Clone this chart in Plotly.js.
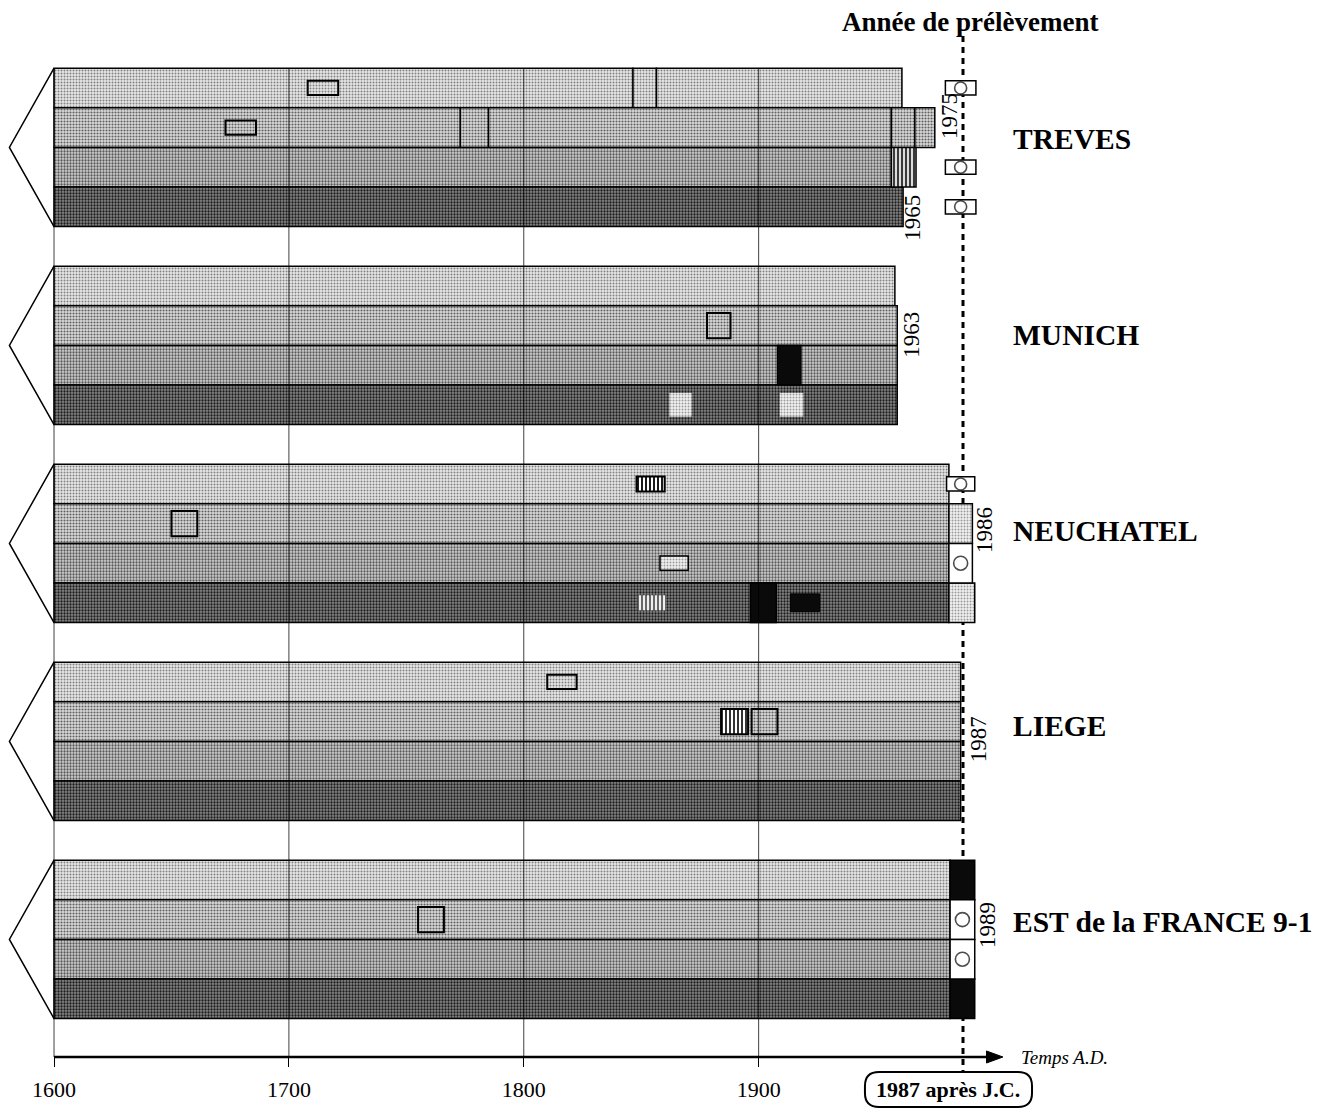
<!DOCTYPE html>
<html><head><meta charset="utf-8">
<script src="https://cdn.plot.ly/plotly-3.0.1.min.js"></script>
<style>html,body{margin:0;padding:0;background:#fff}#chart{width:1326px;height:1114px}</style>
</head><body><div id="chart"></div>
<script>
// ---------------- DATA ----------------
const groups = ["TREVES", "MUNICH", "NEUCHATEL", "LIEGE", "EST de la FRANCE 9-1"];
const tickYears = [1600, 1700, 1800, 1900];
const startYear = 1600;
const samplingYear = 1987;
// segment boundaries (years) of the 4 rows of each site
const treves    = [[1600, 1846.5, 1856.5, 1961], [1600, 1773, 1785, 1956.5, 1966.5, 1975], [1600, 1956.5], [1600, 1961.5]];
const munich    = [[1600, 1958], [1600, 1959], [1600, 1959], [1600, 1959]];
const neuchatel = [[1600, 1981], [1600, 1981], [1600, 1981], [1600, 1981]];
const liege     = [[1600, 1986], [1600, 1986], [1600, 1986], [1600, 1986]];
const estFrance = [[1600, 1981.5], [1600, 1981.5], [1600, 1981.5], [1600, 1981.5]];
const siteRows = [treves, munich, neuchatel, liege, estFrance];
// particular features on the rows
const featGroup = [0, 0, 0, 0, 0, 0, 1, 1, 1, 1, 2, 2, 2, 2, 2, 2, 2, 2, 2, 2, 3, 3, 3, 4, 4, 4, 4, 4];
const featRow   = [0, 1, 2, 0, 2, 3, 1, 2, 3, 3, 0, 0, 1, 1, 2, 2, 3, 3, 3, 3, 0, 1, 1, 0, 1, 1, 2, 3];
const featStart = [1708, 1673, 1956.5, 1979.5, 1979.5, 1979.5, 1878, 1908, 1862, 1909, 1848, 1980, 1650, 1981, 1858, 1981, 1848.5, 1896.5, 1913.5, 1981, 1810, 1884, 1897, 1981.5, 1981.5, 1755, 1981.5, 1981.5];
const featEnd   = [1721, 1686, 1967, 1992.5, 1992.5, 1992.5, 1888, 1918, 1871.5, 1919, 1860, 1992, 1661, 1991, 1870, 1991, 1860.5, 1907.5, 1926, 1992, 1822.5, 1895.5, 1908, 1992, 1992, 1766, 1992, 1992];
const featKind  = ["rect", "rect", "stripeFull", "phi", "phi", "phi", "square", "black", "lightSq", "lightSq",
                   "stripe", "phi", "square", "lightBlock", "lightRect", "circleBox", "stripeLight", "black", "blackRect", "lightBlock",
                   "rect", "stripeTall", "square", "black", "circleBox", "square", "circleBox", "black"];
// sampling year labels
const endLabels = ["1975", "1965", "1963", "1986", "1987", "1989"];

// ---------------- STYLE / LAYOUT ----------------
const ROWS = 5; // 4 rows + 1 gap per site
const rowY = (g, r) => g * ROWS + r;
const FONT = '"Liberation Serif", "DejaVu Serif", serif';
const rowShade = [
  {bg: '#e8e8e8', fg: '#808080', sol: 0.35},
  {bg: '#dadada', fg: '#606060', sol: 0.4},
  {bg: '#d0d0d0', fg: '#585858', sol: 0.45},
  {bg: '#868686', fg: '#1c1c1c', sol: 0.45}
];
const light = {bg: '#f2f2f2', fg: '#9a9a9a', sol: 0.35};
const kindStyle = {
  rect:        {h: 0.36, fill: 'none', line: 2},
  square:      {h: 0.64, fill: 'none', line: 2},
  stripe:      {h: 0.38, pat: {shape: '|', fg: '#000', bg: '#fff', sol: 0.45, size: 4}, line: 2},
  stripeTall:  {h: 0.64, pat: {shape: '|', fg: '#000', bg: '#fff', sol: 0.4, size: 4}, line: 2},
  stripeFull:  {h: 1.0,  pat: {shape: '|', fg: '#111', bg: '#ddd', sol: 0.4, size: 4}, line: 1.5},
  stripeLight: {h: 0.38, pat: {shape: '|', fg: '#444', bg: '#eee', sol: 0.4, size: 4}, line: 0},
  black:       {h: 1.0,  solid: '#0a0a0a', line: 1.5},
  blackRect:   {h: 0.45, solid: '#0a0a0a', line: 1},
  lightSq:     {h: 0.6,  pat: {shape: '.', fg: light.fg, bg: light.bg, sol: light.sol, size: 3}, line: 0},
  lightRect:   {h: 0.36, pat: {shape: '.', fg: light.fg, bg: light.bg, sol: light.sol, size: 3}, line: 1.5},
  lightBlock:  {h: 1.0,  pat: {shape: '.', fg: light.fg, bg: light.bg, sol: light.sol, size: 3}, line: 1.5},
  phi:         {h: 0.36, solid: '#ffffff', line: 1.5, circle: 12},
  circleBox:   {h: 1.0,  solid: '#ffffff', line: 1.5, circle: 14}
};
const xRange = [1577.0, 2141.55];
const yRange = [24.47, -2.222];

const traces = [];
// main rows: one trace per row shade
for (let r = 0; r < 4; r++) {
  const ys = [], base = [], len = [];
  siteRows.forEach((rows, g) => {
    const b = rows[r];
    for (let i = 0; i < b.length - 1; i++) {
      ys.push(rowY(g, r)); base.push(b[i]); len.push(b[i + 1] - b[i]);
    }
  });
  const s = rowShade[r];
  traces.push({
    type: 'bar', orientation: 'h', y: ys, base: base, x: len, width: 1,
    marker: {color: s.bg, pattern: {shape: '.', fgcolor: s.fg, bgcolor: s.bg, size: 3, solidity: s.sol},
             line: {color: '#000', width: 1.5}},
    hoverinfo: 'skip', showlegend: false
  });
}
// features: one trace per kind
const circleX = [], circleY = [], circleS = [];
Object.keys(kindStyle).forEach(kind => {
  const st = kindStyle[kind];
  const ys = [], base = [], len = [];
  featKind.forEach((k, i) => {
    if (k !== kind) return;
    const y = rowY(featGroup[i], featRow[i]);
    ys.push(y); base.push(featStart[i]); len.push(featEnd[i] - featStart[i]);
    if (st.circle) {
      circleX.push((featStart[i] + featEnd[i]) / 2);
      circleY.push(y); circleS.push(st.circle);
    }
  });
  if (!ys.length) return;
  const marker = {line: {color: '#000', width: st.line}};
  if (st.pat) {
    marker.color = st.pat.bg;
    marker.pattern = {shape: st.pat.shape, fgcolor: st.pat.fg, bgcolor: st.pat.bg, size: st.pat.size, solidity: st.pat.sol};
  } else if (st.solid) {
    marker.color = st.solid;
  } else {
    marker.color = 'rgba(0,0,0,0)';
  }
  traces.push({type: 'bar', orientation: 'h', y: ys, base: base, x: len, width: st.h,
               marker: marker, hoverinfo: 'skip', showlegend: false});
});
traces.push({type: 'scatter', mode: 'markers', x: circleX, y: circleY,
  marker: {symbol: 'circle-open', size: circleS, color: '#000', line: {width: 1.6, color: '#000'}},
  hoverinfo: 'skip', showlegend: false, cliponaxis: false});

// shapes
const shapes = [];
tickYears.forEach(t => shapes.push({type: 'line', xref: 'x', yref: 'y', x0: t, x1: t, y0: -0.5, y1: yRange[0],
  layer: 'above', line: {color: 'rgba(0,0,0,0.75)', width: 1}}));
groups.forEach((g, i) => {
  const top = rowY(i, 0) - 0.5, bot = rowY(i, 3) + 0.5, mid = (top + bot) / 2;
  shapes.push({type: 'path', xref: 'x', yref: 'y', path: `M ${startYear},${top} L 1581,${mid} L ${startYear},${bot}`,
    line: {color: '#000', width: 1.5}});
});
shapes.push({type: 'line', xref: 'x', yref: 'paper', x0: samplingYear, x1: samplingYear, y0: 0.966, y1: -0.014,
  layer: 'below', line: {color: '#000', width: 3, dash: '6px,5px'}});
shapes.push({type: 'line', xref: 'x', yref: 'paper', x0: startYear, x1: 1998, y0: 0, y1: 0, line: {color: '#000', width: 2.5}});
shapes.push({type: 'path', xref: 'x', yref: 'paper', path: 'M 1997,0.0057 L 2004,0 L 1997,-0.0057 Z',
  fillcolor: '#000', line: {color: '#000', width: 1}});
// rounded box around "1987 après J.C."
(function () {
  const L = 0.6523, R = 0.7783, T = -0.0142, B = -0.0473, rx = 0.0106, ry = 0.0132;
  shapes.push({type: 'path', xref: 'paper', yref: 'paper',
    path: `M ${L + rx},${T} L ${R - rx},${T} Q ${R},${T} ${R},${T - ry} L ${R},${B + ry} Q ${R},${B} ${R - rx},${B} L ${L + rx},${B} Q ${L},${B} ${L},${B + ry} L ${L},${T - ry} Q ${L},${T} ${L + rx},${T} Z`,
    line: {color: '#000', width: 2}, fillcolor: 'rgba(0,0,0,0)'});
})();

// annotations
const annotations = [];
groups.forEach((g, i) => annotations.push({xref: 'x', yref: 'y', x: 2007.5, y: rowY(i, 1.5) - 0.2 - 0.06 * i,
  text: g, showarrow: false, xanchor: 'left', yanchor: 'middle', font: {family: FONT, size: 29.5, color: '#000', weight: 'bold'}}));
const endLabelX = [1981.2, 1965.7, 1965.1, 1996.4, 1993.6, 1997.2];
const endLabelY = [0.7, 3.28, 6.24, 11.16, 16.46, 21.14];
endLabels.forEach((t, i) => annotations.push({xref: 'x', yref: 'y', x: endLabelX[i], y: endLabelY[i], text: t,
  textangle: -90, showarrow: false, xanchor: 'center', yanchor: 'middle', font: {family: FONT, size: 23, color: '#000'}}));
annotations.push({xref: 'x', yref: 'paper', x: 1990, y: 0.979, xanchor: 'center', yanchor: 'middle', text: 'Année de prélèvement', showarrow: false,
  font: {family: FONT, size: 27, color: '#000', weight: 'bold'}});
annotations.push({xref: 'x', yref: 'paper', x: 2011, y: 0.0, xanchor: 'left', yanchor: 'middle', text: '<i>Temps A.D.</i>',
  showarrow: false, font: {family: FONT, size: 19, color: '#000'}});
annotations.push({xref: 'x', yref: 'paper', x: 1980.6, y: -0.031, xanchor: 'center', yanchor: 'middle', text: '<b>1987 après J.C.</b>',
  showarrow: false, font: {family: FONT, size: 22, color: '#000'}});

const layout = {
  width: 1326, height: 1114, paper_bgcolor: '#fff', plot_bgcolor: '#fff',
  margin: {l: 0, r: 0, t: 0, b: 57}, barmode: 'overlay', showlegend: false,
  xaxis: {range: xRange, tickvals: tickYears, ticktext: tickYears.map(String), ticks: 'outside', ticklen: 9,
    tickcolor: '#000', tickwidth: 1, showgrid: false, zeroline: false, showline: false, ticklabelstandoff: 4,
    tickfont: {family: FONT, size: 22, color: '#000'}, fixedrange: true},
  yaxis: {range: yRange, showticklabels: false, showgrid: false, zeroline: false, ticks: '', fixedrange: true},
  shapes: shapes, annotations: annotations
};
Plotly.newPlot('chart', traces, layout, {displayModeBar: false, staticPlot: true});
</script></body></html>
